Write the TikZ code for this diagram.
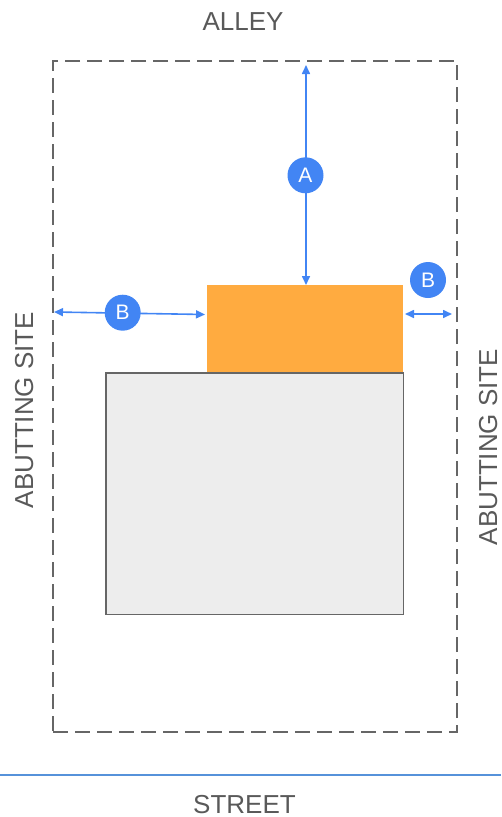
\documentclass[tikz,border=0pt]{standalone}
\usepackage{fontspec}
\setmainfont{Liberation Sans}
\usetikzlibrary{arrows.meta}
\definecolor{mblue}{RGB}{66, 133, 244}
\definecolor{mgray}{RGB}{102, 102, 102}
\definecolor{mtext}{RGB}{89, 89, 89}
\definecolor{morange}{RGB}{255, 171, 64}
\definecolor{mstreet}{RGB}{86, 146, 218}
\tikzset{dim/.style = {draw=mblue, line width=1.6, {Triangle[length=9,width=8]}-{Triangle[length=9,width=8]}},
  tag/.style = {fill=mblue, circle, inner sep = 0, minimum size = 36, text=white, font=\fontsize{21}{21}\selectfont},
  lbl/.style = {text=mtext, anchor=base, inner sep=0, font=\fontsize{26}{26}\selectfont},
  side/.style = {lbl, rotate=90},
  lot/.style = {draw=mgray, line width=2, dash pattern=on 15 off 7, anchor=north west, inner sep=0},
  garage/.style = {fill=morange, anchor=north west, inner sep=0},
  house/.style = {fill=black!7, draw=mgray, line width=1.5, anchor=north west, inner sep=0}}

\begin{document}
\begin{tikzpicture}[x=1pt, y=-1pt]
      \useasboundingbox (0, 0) rectangle (501, 817);
      \node [lot, minimum width=404, minimum height=671] (lot) at (52, 60) {};
      \node [garage, minimum width=196, minimum height=87] (garage) at (207, 285) {};
      \node [house, minimum width=297.5, minimum height=241.5] (house) at (105, 372) {};
      \draw [mstreet, line width=2] (0, 775) -- (501, 775);
      \coordinate (a1) at (306, 65);
      \coordinate (b1) at (54, 312);
      \coordinate (b2) at (205, 314.5);
      \coordinate (c1) at (405, 314);
      \coordinate (c2) at (452, 314);
      \draw [dim] (a1) -- (a1 |- garage.north);
      \draw [dim] (b1) -- (b2);
      \draw [dim] (c1) -- (c2);
      \node [tag] (tagA) at (305.5, 175.3) {A};
      \node [tag] (tagB1) at (122.7, 312.7) {B};
      \node [tag] (tagB2) at (428, 280) {B};
      \node [lbl] (alley) at (243, 30) {ALLEY};
      \node [lbl] (street) at (244.5, 813) {STREET};
      \node [side] (west) at (33, 410) {ABUTTING SITE};
      \node [side] (east) at (497, 447) {ABUTTING SITE};
    \end{tikzpicture}
\end{document}
